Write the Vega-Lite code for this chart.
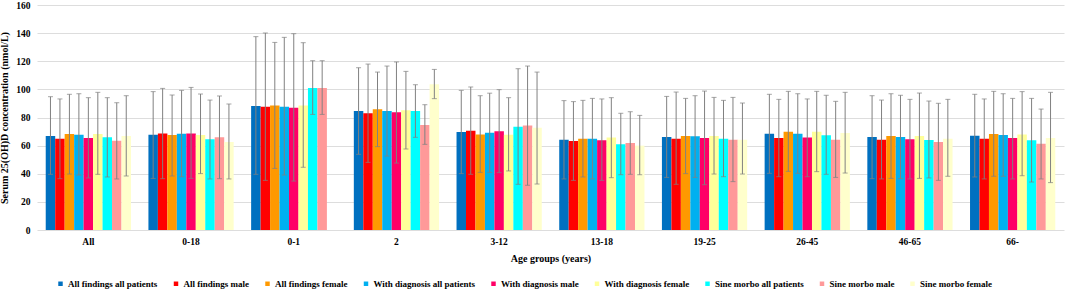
{
  "$schema": "https://vega.github.io/schema/vega-lite/v6.json",
  "autosize": {"type": "none"},
  "width": 1027,
  "height": 225,
  "padding": {"left": 37, "top": 5, "right": 1, "bottom": 62},
  "background": "white",
  "config": {
    "font": "Liberation Serif",
    "view": {"stroke": null},
    "axis": {"labelFont": "Liberation Serif", "titleFont": "Liberation Serif", "labelFontWeight": "bold", "titleFontWeight": "bold", "labelColor": "#000", "titleColor": "#000"},
    "axisY": {"values": [0,20,40,60,80,100,120,140,160], "labelOverlap": false, "labelFontSize": 9.5, "titleFontSize": 10, "domain": false, "ticks": false, "gridColor": "#dddddd", "labelPadding": 7, "titlePadding": 6},
    "legend": {"labelFont": "Liberation Serif", "labelFontWeight": "bold", "labelColor": "#000"}
  },
  "data": {"values": [
    {"g":"All","s":"All findings all patients","m":66.8,"lo":39.6,"hi":94.8},
    {"g":"All","s":"All findings male","m":64.9,"lo":36.5,"hi":93.2},
    {"g":"All","s":"All findings female","m":68.3,"lo":39.8,"hi":96.5},
    {"g":"All","s":"With diagnosis all patients","m":67.8,"lo":39.1,"hi":96.9},
    {"g":"All","s":"With diagnosis male","m":65.4,"lo":37.0,"hi":94.1},
    {"g":"All","s":"With diagnosis female","m":68.3,"lo":39.6,"hi":97.9},
    {"g":"All","s":"Sine morbo all patients","m":65.9,"lo":37.7,"hi":94.1},
    {"g":"All","s":"Sine morbo male","m":63.5,"lo":36.3,"hi":90.5},
    {"g":"All","s":"Sine morbo female","m":66.8,"lo":38.4,"hi":95.5},

    {"g":"0-18","s":"All findings all patients","m":67.8,"lo":36.7,"hi":98.4},
    {"g":"0-18","s":"All findings male","m":68.7,"lo":36.5,"hi":100.7},
    {"g":"0-18","s":"All findings female","m":67.6,"lo":38.4,"hi":96.0},
    {"g":"0-18","s":"With diagnosis all patients","m":68.5,"lo":37.9,"hi":99.3},
    {"g":"0-18","s":"With diagnosis male","m":68.7,"lo":36.7,"hi":101.4},
    {"g":"0-18","s":"With diagnosis female","m":67.6,"lo":40.1,"hi":96.7},
    {"g":"0-18","s":"Sine morbo all patients","m":64.5,"lo":36.3,"hi":92.4},
    {"g":"0-18","s":"Sine morbo male","m":65.9,"lo":36.5,"hi":95.3},
    {"g":"0-18","s":"Sine morbo female","m":62.6,"lo":36.3,"hi":89.6},

    {"g":"0-1","s":"All findings all patients","m":88.2,"lo":39.6,"hi":137.5},
    {"g":"0-1","s":"All findings male","m":87.7,"lo":35.3,"hi":140.1},
    {"g":"0-1","s":"All findings female","m":88.6,"lo":43.8,"hi":133.4},
    {"g":"0-1","s":"With diagnosis all patients","m":87.7,"lo":39.1,"hi":137.0},
    {"g":"0-1","s":"With diagnosis male","m":87.0,"lo":34.8,"hi":139.6},
    {"g":"0-1","s":"With diagnosis female","m":88.6,"lo":44.6,"hi":133.2},
    {"g":"0-1","s":"Sine morbo all patients","m":101.0,"lo":82.2,"hi":120.4},
    {"g":"0-1","s":"Sine morbo male","m":101.0,"lo":82.2,"hi":120.4},

    {"g":"2","s":"All findings all patients","m":84.6,"lo":53.8,"hi":115.4},
    {"g":"2","s":"All findings male","m":83.0,"lo":48.1,"hi":118.0},
    {"g":"2","s":"All findings female","m":85.8,"lo":59.3,"hi":112.3},
    {"g":"2","s":"With diagnosis all patients","m":84.6,"lo":52.6,"hi":116.6},
    {"g":"2","s":"With diagnosis male","m":83.7,"lo":47.6,"hi":119.5},
    {"g":"2","s":"With diagnosis female","m":85.1,"lo":57.6,"hi":112.8},
    {"g":"2","s":"Sine morbo all patients","m":84.6,"lo":65.9,"hi":103.3},
    {"g":"2","s":"Sine morbo male","m":74.7,"lo":60.9,"hi":89.1},
    {"g":"2","s":"Sine morbo female","m":103.6,"lo":93.4,"hi":114.2},

    {"g":"3-12","s":"All findings all patients","m":69.7,"lo":40.1,"hi":99.3},
    {"g":"3-12","s":"All findings male","m":70.6,"lo":39.6,"hi":101.7},
    {"g":"3-12","s":"All findings female","m":68.0,"lo":41.0,"hi":95.5},
    {"g":"3-12","s":"With diagnosis all patients","m":69.2,"lo":41.0,"hi":97.3},
    {"g":"3-12","s":"With diagnosis male","m":70.2,"lo":40.8,"hi":99.8},
    {"g":"3-12","s":"With diagnosis female","m":67.8,"lo":42.0,"hi":94.1},
    {"g":"3-12","s":"Sine morbo all patients","m":73.5,"lo":32.5,"hi":114.7},
    {"g":"3-12","s":"Sine morbo male","m":74.4,"lo":31.8,"hi":116.6},
    {"g":"3-12","s":"Sine morbo female","m":72.8,"lo":32.7,"hi":112.3},

    {"g":"13-18","s":"All findings all patients","m":64.2,"lo":36.3,"hi":92.0},
    {"g":"13-18","s":"All findings male","m":63.3,"lo":35.3,"hi":91.3},
    {"g":"13-18","s":"All findings female","m":64.9,"lo":37.7,"hi":92.2},
    {"g":"13-18","s":"With diagnosis all patients","m":64.9,"lo":36.3,"hi":93.6},
    {"g":"13-18","s":"With diagnosis male","m":63.8,"lo":35.3,"hi":93.2},
    {"g":"13-18","s":"With diagnosis female","m":65.7,"lo":37.2,"hi":94.1},
    {"g":"13-18","s":"Sine morbo all patients","m":60.9,"lo":39.3,"hi":83.0},
    {"g":"13-18","s":"Sine morbo male","m":61.9,"lo":39.6,"hi":84.1},
    {"g":"13-18","s":"Sine morbo female","m":60.0,"lo":39.3,"hi":81.5},

    {"g":"19-25","s":"All findings all patients","m":66.1,"lo":37.4,"hi":95.0},
    {"g":"19-25","s":"All findings male","m":64.9,"lo":32.5,"hi":98.1},
    {"g":"19-25","s":"All findings female","m":66.8,"lo":40.1,"hi":93.6},
    {"g":"19-25","s":"With diagnosis all patients","m":66.6,"lo":37.4,"hi":95.5},
    {"g":"19-25","s":"With diagnosis male","m":65.4,"lo":32.2,"hi":98.8},
    {"g":"19-25","s":"With diagnosis female","m":66.8,"lo":39.8,"hi":94.3},
    {"g":"19-25","s":"Sine morbo all patients","m":64.9,"lo":37.9,"hi":92.2},
    {"g":"19-25","s":"Sine morbo male","m":64.2,"lo":34.4,"hi":94.3},
    {"g":"19-25","s":"Sine morbo female","m":64.2,"lo":39.8,"hi":90.3},

    {"g":"26-45","s":"All findings all patients","m":68.5,"lo":40.3,"hi":96.5},
    {"g":"26-45","s":"All findings male","m":65.4,"lo":37.9,"hi":92.9},
    {"g":"26-45","s":"All findings female","m":69.9,"lo":41.7,"hi":98.6},
    {"g":"26-45","s":"With diagnosis all patients","m":68.5,"lo":40.3,"hi":96.9},
    {"g":"26-45","s":"With diagnosis male","m":65.7,"lo":37.9,"hi":93.2},
    {"g":"26-45","s":"With diagnosis female","m":69.9,"lo":41.5,"hi":98.6},
    {"g":"26-45","s":"Sine morbo all patients","m":67.3,"lo":39.6,"hi":95.8},
    {"g":"26-45","s":"Sine morbo male","m":64.2,"lo":37.4,"hi":91.5},
    {"g":"26-45","s":"Sine morbo female","m":69.0,"lo":40.5,"hi":97.9},

    {"g":"46-65","s":"All findings all patients","m":66.1,"lo":36.5,"hi":95.5},
    {"g":"46-65","s":"All findings male","m":64.2,"lo":36.3,"hi":92.4},
    {"g":"46-65","s":"All findings female","m":66.8,"lo":36.7,"hi":96.9},
    {"g":"46-65","s":"With diagnosis all patients","m":66.1,"lo":36.5,"hi":95.8},
    {"g":"46-65","s":"With diagnosis male","m":64.5,"lo":36.3,"hi":92.9},
    {"g":"46-65","s":"With diagnosis female","m":66.8,"lo":36.7,"hi":97.4},
    {"g":"46-65","s":"Sine morbo all patients","m":64.0,"lo":37.0,"hi":91.7},
    {"g":"46-65","s":"Sine morbo male","m":62.6,"lo":35.3,"hi":90.1},
    {"g":"46-65","s":"Sine morbo female","m":64.9,"lo":38.2,"hi":92.9},

    {"g":"66-","s":"All findings all patients","m":67.1,"lo":37.7,"hi":96.5},
    {"g":"66-","s":"All findings male","m":64.9,"lo":36.3,"hi":93.2},
    {"g":"66-","s":"All findings female","m":68.3,"lo":38.2,"hi":98.6},
    {"g":"66-","s":"With diagnosis all patients","m":67.6,"lo":38.2,"hi":96.9},
    {"g":"66-","s":"With diagnosis male","m":65.4,"lo":36.3,"hi":93.6},
    {"g":"66-","s":"With diagnosis female","m":68.0,"lo":38.6,"hi":98.4},
    {"g":"66-","s":"Sine morbo all patients","m":63.8,"lo":34.1,"hi":93.6},
    {"g":"66-","s":"Sine morbo male","m":61.4,"lo":36.3,"hi":86.0},
    {"g":"66-","s":"Sine morbo female","m":65.4,"lo":33.7,"hi":97.9}
  ]},
  "encoding": {
    "x": {
      "field": "g", "type": "nominal",
      "sort": ["All","0-18","0-1","2","3-12","13-18","19-25","26-45","46-65","66-"],
      "scale": {"paddingInner": 0.17, "paddingOuter": 0.085},
      "axis": {"title": "Age groups (years)", "labelAngle": 0, "labelFontSize": 9.5, "titleFontSize": 10, "domain": false, "ticks": false, "labelPadding": 6, "titlePadding": 8}
    },
    "xOffset": {
      "field": "s", "type": "nominal",
      "sort": ["All findings all patients","All findings male","All findings female","With diagnosis all patients","With diagnosis male","With diagnosis female","Sine morbo all patients","Sine morbo male","Sine morbo female"],
      "scale": {"paddingInner": 0, "paddingOuter": 0}
    }
  },
  "layer": [
    {
      "mark": {"type": "bar"},
      "encoding": {
        "y": {"field": "m", "type": "quantitative", "scale": {"domain": [0, 160], "nice": false, "zero": true},
          "axis": {"title": "Serum 25(OH)D concentration (nmol/L)", "values": [0,20,40,60,80,100,120,140,160], "labelOverlap": false}},
        "color": {
          "field": "s", "type": "nominal",
          "sort": ["All findings all patients","All findings male","All findings female","With diagnosis all patients","With diagnosis male","With diagnosis female","Sine morbo all patients","Sine morbo male","Sine morbo female"],
          "scale": {"range": ["#0070C0","#FF0000","#FF9900","#00B0F0","#FF0066","#FFFF99","#00FFFF","#FF9999","#FFFFCC"]},
          "legend": {"title": null, "orient": "none", "direction": "horizontal", "columns": 9, "legendX": 19, "legendY": 274, "symbolType": "square", "symbolSize": 20, "symbolStrokeWidth": 0, "labelFontSize": 9, "labelOffset": 3, "columnPadding": 13.5}
        }
      }
    },
    {
      "mark": {"type": "rule", "color": "#808080", "strokeWidth": 1},
      "encoding": {"y": {"field": "lo", "type": "quantitative", "axis": {"title": "Serum 25(OH)D concentration (nmol/L)", "values": [0,20,40,60,80,100,120,140,160], "labelOverlap": false}}, "y2": {"field": "hi"}}
    },
    {
      "mark": {"type": "tick", "orient": "horizontal", "color": "#808080", "size": 5, "thickness": 1},
      "encoding": {"y": {"field": "hi", "type": "quantitative", "axis": {"title": "Serum 25(OH)D concentration (nmol/L)", "values": [0,20,40,60,80,100,120,140,160], "labelOverlap": false}}}
    },
    {
      "mark": {"type": "tick", "orient": "horizontal", "color": "#808080", "size": 5, "thickness": 1},
      "encoding": {"y": {"field": "lo", "type": "quantitative", "axis": {"title": "Serum 25(OH)D concentration (nmol/L)", "values": [0,20,40,60,80,100,120,140,160], "labelOverlap": false}}}
    }
  ]
}
